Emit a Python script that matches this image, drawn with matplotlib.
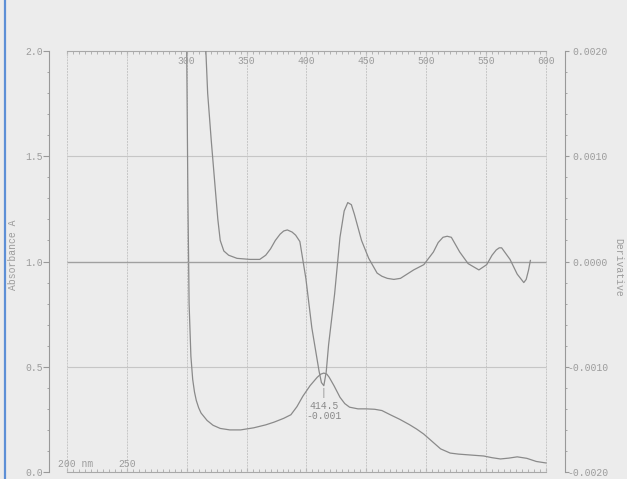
import numpy as np
import matplotlib
matplotlib.use('Agg')
import matplotlib.pyplot as plt
from matplotlib.ticker import MultipleLocator, FormatStrFormatter

# absorbance trace (nm, A)
wl_abs = [300, 301, 302, 303.5, 305, 306.5, 308, 310, 312, 317, 322, 328, 336, 345,
          356, 366, 373, 381, 387, 392, 397, 403, 409, 412, 414.5, 417, 419, 423,
          428, 432, 436, 443, 450, 457, 463, 470, 478, 486, 492, 498, 502, 506,
          512, 520, 527, 534, 541, 548, 555, 562, 569, 576, 584, 592, 600]
absorb = [2.00, 1.30, 0.80, 0.55, 0.44, 0.38, 0.34, 0.305, 0.28, 0.245, 0.222,
          0.207, 0.200, 0.200, 0.210, 0.224, 0.237, 0.255, 0.272, 0.31, 0.36,
          0.41, 0.45, 0.465, 0.47, 0.465, 0.45, 0.41, 0.355, 0.325, 0.308, 0.300,
          0.300, 0.298, 0.292, 0.272, 0.25, 0.225, 0.204, 0.18, 0.16, 0.14, 0.11,
          0.09, 0.085, 0.082, 0.079, 0.076, 0.068, 0.062, 0.066, 0.072, 0.065,
          0.05, 0.043]

# derivative trace (nm, dA/dl)
wl_der = [316, 317.5, 320.5, 324, 326, 328, 331, 335, 342, 353, 361, 366, 370, 374,
          378, 381, 384, 388, 391, 394.5, 399.5, 404.5, 410.5, 412.5, 414.5,
          416.5, 418.5, 423.5, 428, 431.5, 434.5, 437.5, 440, 446, 452, 459, 463,
          467.5, 473, 478.5, 489.5, 498, 506, 510, 514, 517.5, 521, 528, 535, 544,
          550.5, 555, 558.5, 561, 563, 570, 576, 581.5, 583.5, 585.5, 587]
deriv = [0.0020, 0.0016, 0.00115, 0.00067, 0.0004, 0.0002, 0.0001, 0.00006,
         0.00003, 0.00002, 0.00002, 0.00006, 0.00012, 0.0002, 0.00026, 0.00029,
         0.0003, 0.00028, 0.00025, 0.00019, -0.00016, -0.00063, -0.00104,
         -0.00115, -0.00118, -0.00105, -0.00079, -0.00031, 0.00023, 0.00048,
         0.00056, 0.00054, 0.00045, 0.0002, 0.00003, -0.00011, -0.00014, -0.00016,
         -0.00017, -0.00016, -0.00008, -0.00003, 0.00009, 0.00018, 0.00023,
         0.00024, 0.00023, 0.00009, -0.00002, -0.00008, -0.00003, 0.00006,
         0.00011, 0.00013, 0.00013, 0.00002, -0.00012, -0.0002, -0.00017,
         -0.00008, 0.00001]

peak_nm = 414.5
peak_d = -0.00118

wl_start, wl_end = 200, 600
top_labels = [300, 350, 400, 450, 500, 550, 600]
bottom_labels = [200, 250]

ink = '#8a8a8a'
grid = '#c6c6c6'
txt = '#9c9c9c'
paper = '#ececec'

plt.rcParams['font.family'] = ['Liberation Mono', 'DejaVu Sans Mono']
plt.rcParams['font.size'] = 7

fig = plt.figure(figsize=(6.27, 4.79), dpi=100, facecolor=paper)
ax = fig.add_axes([0.0789, 0.0146, 0.8222, 0.8789])
ax.set_facecolor('none')
ax.set_xlim(185.4, 615.9)
ax.set_ylim(0, 2.0)
ax2 = ax.twinx()
ax2.set_ylim(-0.002, 0.002)

# grid
ax.vlines(np.arange(wl_start, wl_end + 1, 50), 0, 2.0, colors=grid, lw=0.7,
          linestyles=(0, (2, 1)))
ax.hlines([0.5, 1.5], wl_start, wl_end, colors=grid, lw=0.8)
ax2.hlines(0, wl_start, wl_end, colors='#a0a0a0', lw=1.0)

# traces
ax.plot(wl_abs, absorb, color=ink, lw=0.9)
ax2.plot(wl_der, deriv, color=ink, lw=0.9)

# spines
for s in ['top', 'bottom']:
    ax.spines[s].set_bounds(wl_start, wl_end)
    ax.spines[s].set_color('#a8a8a8')
    ax.spines[s].set_linewidth(0.8)
ax.spines['left'].set_color('#999999')
ax.spines['right'].set_visible(False)
for s in ['top', 'bottom', 'left']:
    ax2.spines[s].set_visible(False)
ax2.spines['right'].set_color('#999999')

# x rulers
ax.set_xticks(np.arange(wl_start, wl_end + 1, 50))
ax.set_xticks(np.arange(wl_start, wl_end + 1, 5), minor=True)
ax.tick_params(axis='x', which='both', direction='in', top=True, bottom=True,
               labelbottom=False, labeltop=False, color='#a8a8a8')
ax.tick_params(axis='x', which='major', length=3)
ax.tick_params(axis='x', which='minor', length=2)

for nm in top_labels:
    ax.annotate(str(nm), xy=(nm, 2.0), xytext=(0, -7.5), textcoords='offset points',
                ha='center', va='center', color=txt)
ax.annotate('%d nm' % bottom_labels[0], xy=(bottom_labels[0], 0), xytext=(-6.3, 5.8),
            textcoords='offset points', ha='left', va='center', color=txt)
for nm in bottom_labels[1:]:
    ax.annotate(str(nm), xy=(nm, 0), xytext=(0, 5.8), textcoords='offset points',
                ha='center', va='center', color=txt)

# left axis
ax.yaxis.set_major_locator(MultipleLocator(0.5))
ax.yaxis.set_minor_locator(MultipleLocator(0.1))
ax.yaxis.set_major_formatter(FormatStrFormatter('%.1f'))
ax.tick_params(axis='y', which='major', length=4, pad=1, color='#999999', labelcolor=txt)
ax.tick_params(axis='y', which='minor', length=1.5, color='#999999')

# right axis
ax2.yaxis.set_major_locator(MultipleLocator(0.001))
ax2.yaxis.set_minor_locator(MultipleLocator(0.0002))
ax2.yaxis.set_major_formatter(FormatStrFormatter('%.4f'))
ax2.tick_params(axis='y', which='major', length=3, pad=28, color='#999999', labelcolor=txt)
ax2.tick_params(axis='y', which='minor', length=1.5, color='#999999')
for lab in ax2.get_yticklabels():
    lab.set_ha('right')

# peak pick
ax2.annotate('|', xy=(peak_nm, peak_d), xytext=(0, -5), textcoords='offset points',
             ha='center', va='center', color=ink)
ax2.annotate('%.1f\n%.3f' % (peak_nm, peak_d), xy=(peak_nm, peak_d), xytext=(0, -11),
             textcoords='offset points', ha='center', va='top', color=ink,
             linespacing=0.95)

fig.text(13 / 627, 1 - 255 / 479, 'Absorbance A', rotation=90, ha='center',
         va='center', color=txt)
fig.text(618 / 627, 1 - 267 / 479, 'Derivative', rotation=270, ha='center',
         va='center', color=txt)

fig.add_artist(plt.Line2D([0.008, 0.008], [0, 1], color='#5d8fd6', lw=1.6))

fig.savefig('out.png', dpi=100, facecolor=paper)
